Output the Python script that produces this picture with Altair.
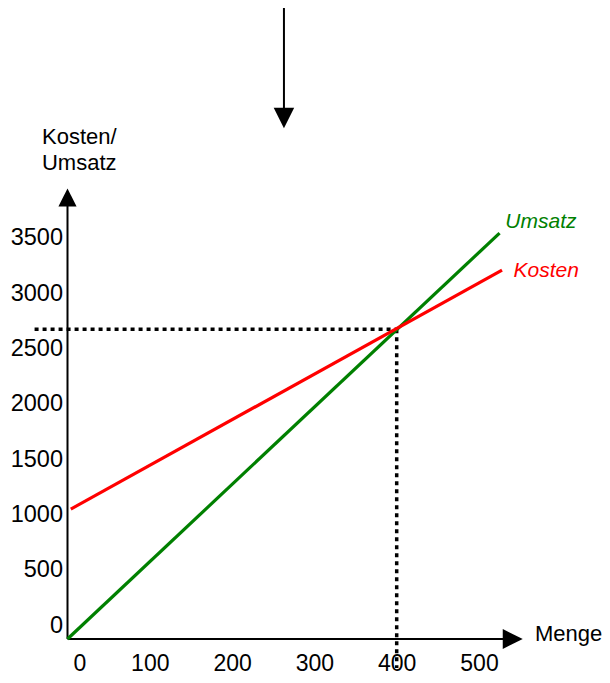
import altair as alt
import pandas as pd

# --- values ---
x_ticks = [0, 100, 200, 300, 400, 500]
y_ticks = [0, 500, 1000, 1500, 2000, 2500, 3000, 3500]

umsatz_x = [0, 525]
umsatz_y = [0, 3670]
kosten_x = [4, 528]
kosten_y = [1175, 3335]

break_even_x = 400
break_even_y = 2800

FONT = "Liberation Sans"
GREEN = "#008000"
RED = "#ff0000"

xs = alt.Scale(domain=[0, 600], nice=False, zero=False)
ys = alt.Scale(domain=[0, 4000], nice=False, zero=False)

x_axis = alt.Axis(
    values=x_ticks,
    format="d",
    domain=False,
    ticks=False,
    grid=False,
    title=None,
    labelFont=FONT,
    labelFontSize=23,
    labelColor="black",
    labelPadding=13,
    labelFlush=False,
    labelOffset={"condition": {"test": "datum.value == 0", "value": 12}, "value": 0},
)
y_axis = alt.Axis(
    values=y_ticks,
    format="d",
    domain=False,
    ticks=False,
    grid=False,
    title=None,
    labelFont=FONT,
    labelFontSize=23.5,
    labelColor="black",
    labelPadding=5,
    labelOffset=-14,
)

lines_df = pd.DataFrame(
    {
        "x": umsatz_x + kosten_x,
        "y": umsatz_y + kosten_y,
        "serie": ["Umsatz"] * len(umsatz_x) + ["Kosten"] * len(kosten_x),
    }
)

# axis lines (with arrows) and pointer arrow at the top
axis_df = pd.DataFrame(
    {
        "x": [0, 0, 263],
        "x2": [541, 0, 263],
        "y": [0, 0, 4783],
        "y2": [0, 3992, 5705],
    }
)
arrow_df = pd.DataFrame(
    {
        "x": [0, 541, 263],
        "y": [3992, 0, 4711],
        "shape": ["M-1,1L1,1L0,-1Z", "M-1,-1L1,0L-1,1Z", "M-1,-1L1,-1L0,1Z"],
        "size": [330, 400, 420],
    }
)
dot_df = pd.DataFrame(
    {
        "x": [-40, break_even_x],
        "x2": [break_even_x, break_even_x],
        "y": [break_even_y, break_even_y],
        "y2": [break_even_y, -262],
    }
)
axis_titles_df = pd.DataFrame(
    {
        "x": [-31, -31, 568],
        "y": [4539, 4304, 45],
        "t": ["Kosten/", "Umsatz", "Menge"],
    }
)
series_labels_df = pd.DataFrame(
    {
        "x": [532, 542],
        "y": [3770, 3327],
        "t": ["Umsatz", "Kosten"],
        "c": [GREEN, RED],
    }
)

base_x = alt.X("x:Q", scale=xs, axis=x_axis)
base_y = alt.Y("y:Q", scale=ys, axis=y_axis)

lines = (
    alt.Chart(lines_df)
    .mark_line(strokeWidth=3.2)
    .encode(
        x=base_x,
        y=base_y,
        color=alt.Color(
            "serie:N",
            scale=alt.Scale(domain=["Umsatz", "Kosten"], range=[GREEN, RED]),
            legend=None,
        ),
        detail="serie:N",
    )
)

axes = (
    alt.Chart(axis_df)
    .mark_rule(color="black", strokeWidth=2)
    .encode(x=base_x, x2="x2:Q", y=base_y, y2="y2:Q")
)

arrows = (
    alt.Chart(arrow_df)
    .mark_point(filled=True, color="black", opacity=1, strokeWidth=0)
    .encode(
        x=base_x,
        y=base_y,
        shape=alt.Shape("shape:N", scale=None),
        size=alt.Size("size:Q", scale=None),
    )
)

dots = (
    alt.Chart(dot_df)
    .mark_rule(color="black", strokeWidth=3.5, strokeDash=[4, 4])
    .encode(x=base_x, x2="x2:Q", y=base_y, y2="y2:Q")
)

titles = (
    alt.Chart(axis_titles_df)
    .mark_text(align="left", baseline="middle", font=FONT, fontSize=22, color="black")
    .encode(x=base_x, y=base_y, text="t:N")
)

series_labels = (
    alt.Chart(series_labels_df)
    .mark_text(align="left", baseline="middle", font=FONT, fontSize=21, fontStyle="italic")
    .encode(x=base_x, y=base_y, text="t:N", color=alt.Color("c:N", scale=None))
)

chart = (
    alt.layer(dots, axes, lines, arrows, titles, series_labels)
    .properties(
        width=493.8,
        height=442.4,
        background="white",
        autosize=alt.AutoSizeParams(type="none"),
        padding={"left": 59.5, "top": 188.6, "right": 40.7, "bottom": 36},
    )
    .configure_view(strokeWidth=0, stroke="transparent")
)

chart.save("out.html", embed_options={"renderer": "svg", "actions": False})
